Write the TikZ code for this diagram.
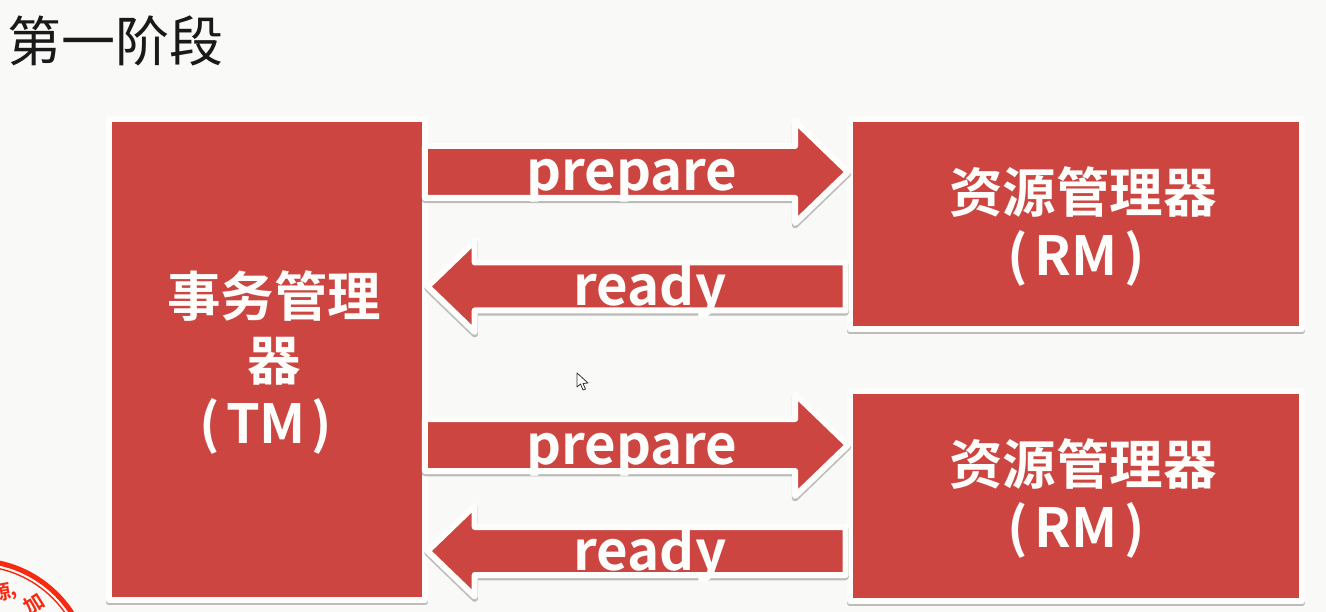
\documentclass[tikz,border=0pt]{standalone}
\usepackage{fontspec}
\setmainfont{Noto Sans CJK SC}[BoldFont={Noto Sans CJK SC Bold}]
\usetikzlibrary{shapes.arrows,shadows}
\definecolor{bgc}{HTML}{F9F9F7}
\definecolor{redc}{HTML}{CC4541}
\definecolor{whitec}{HTML}{FDFDFB}
\definecolor{stampc}{HTML}{F52A10}
\tikzset{
  softshadow/.style={general shadow={shadow xshift=0pt,shadow yshift=-2pt,draw=black!50,fill=black!50,line width=6.5pt,line join=round,opacity=.5}},
  redbox/.style={draw=whitec,line width=6pt,line join=round,fill=redc,inner sep=0pt,outer sep=0pt,softshadow,anchor=north west},
  arrowbase/.style={single arrow,draw=whitec,line width=6pt,line join=round,fill=redc,inner sep=0pt,outer sep=0pt,single arrow head indent=0pt,softshadow},
  prepblock/.style={arrowbase,minimum height=423pt,single arrow head extend=25pt,single arrow tip angle=88},
  readyblock/.style={arrowbase,minimum height=418pt,single arrow head extend=21.5pt,single arrow tip angle=88,shape border rotate=180},
  boxlabel/.style={font=\fontsize{53.5}{64}\selectfont\bfseries,text=whitec,align=center,inner sep=0pt},
  codelabel/.style={font=\fontsize{54}{64}\selectfont\bfseries,text=whitec,inner sep=0pt},
  arrowlabel/.style={font=\fontsize{54.5}{60}\selectfont\bfseries,text=whitec,inner sep=0pt,anchor=base},
  stamptext/.style={text=stampc,font=\fontsize{20}{20}\selectfont\bfseries,inner sep=0pt},
}
\begin{document}
\begin{tikzpicture}[x=1pt,y=-1pt]
\useasboundingbox (0,0) rectangle (1326,612);
\fill[bgc] (0,0) rectangle (1326,612);
% stamp
\begin{scope}
\clip (0,540) rectangle (130,612);
\draw[stampc,line width=5pt] (-25,676) circle[radius=115.5];
\draw[stampc,line width=1.4pt] (-25,676) circle[radius=110];
\node[stamptext,rotate=10] (stampa) at (1,592) {源};
\node[stamptext,rotate=20] (stampb) at (15,596) {,};
\node[stamptext,rotate=32] (stampd) at (34,604) {加};
\end{scope}
% title
\node[font=\fontsize{54}{60}\selectfont,text=black!90,inner sep=0pt,anchor=west] (title) at (7,41) {第一阶段};
% boxes
\node[redbox,minimum width=316pt,minimum height=481pt] (tm) at (109,119) {};
\node[redbox,minimum width=452pt,minimum height=210pt] (rma) at (850,119) {};
\node[redbox,minimum width=452pt,minimum height=210pt] (rmb) at (850,391) {};
\node[boxlabel] (tmt) at (274,328) {事务管理\\器};
\node[codelabel] (tmc) at (266,426) {(\kern6pt TM\kern6pt)};
\node[boxlabel] (rmat) at (1083,192) {资源管理器};
\node[codelabel] (rmac) at (1076,258) {(\kern7pt RM\kern7pt)};
\node[boxlabel] (rmbt) at (1083,464) {资源管理器};
\node[codelabel] (rmbc) at (1076,530) {(\kern7pt RM\kern7pt)};
% arrows
\node[prepblock] (p1) at (623,172) {\rule{0pt}{46pt}};
\node[readyblock] (r1) at (649,286.5) {\rule{0pt}{42pt}};
\node[prepblock] (p2) at (623,445) {\rule{0pt}{46pt}};
\node[readyblock] (r2) at (649,551) {\rule{0pt}{42pt}};
\node[arrowlabel] (pt1) at (632,191) {prepare};
\node[arrowlabel] (rt1) at (650,306) {ready};
\node[arrowlabel] (pt2) at (632,464) {prepare};
\node[arrowlabel] (rt2) at (650,570) {ready};
% cursor
\draw[black!80,fill=white,line width=.8pt,line join=round] (577,373) -- (577,387) -- (580.5,384) -- (583,390) -- (585.5,389) -- (583,383.5) -- (588,383) -- cycle;
\end{tikzpicture}
\end{document}
